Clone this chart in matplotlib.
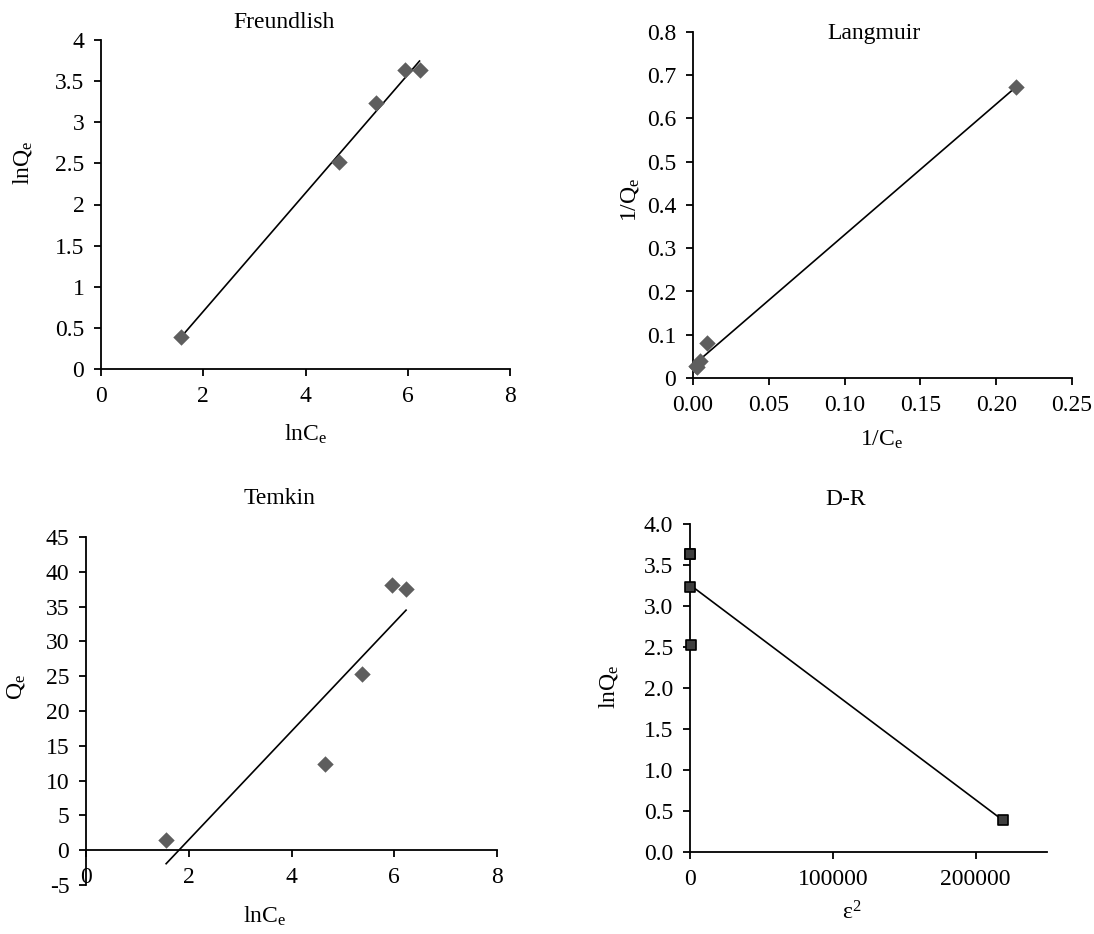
import numpy as np
import matplotlib
matplotlib.use("Agg")
import matplotlib.pyplot as plt
from matplotlib.ticker import FuncFormatter, MultipleLocator

plt.rcParams['font.family'] = 'Liberation Serif'
plt.rcParams['mathtext.fontset'] = 'custom'
plt.rcParams['mathtext.rm'] = 'Liberation Serif'
plt.rcParams['mathtext.it'] = 'Liberation Serif:italic'
plt.rcParams['axes.unicode_minus'] = False

# data
lnCe = [1.56, 4.66, 5.37, 5.95, 6.23]
lnQe = [0.39, 2.52, 3.23, 3.64, 3.63]
inv_Ce = [0.213, 0.0095, 0.0047, 0.0026, 0.0020]
inv_Qe = [0.672, 0.0805, 0.0395, 0.0262, 0.0266]
Qe = [1.48, 12.4, 25.3, 38.1, 37.6]
eps2 = [219000, 550, 130, 40, 24]

diamond_col = '#5e5e5e'
fs = 17

W, H = 1094, 934
fig = plt.figure(figsize=(W / 100, H / 100), dpi=100)


def px_axes(l, t, r, b):
    return fig.add_axes([l / W, 1 - b / H, (r - l) / W, (b - t) / H])


def style(ax):
    for s in ['top', 'right']:
        ax.spines[s].set_visible(False)
    for s in ['left', 'bottom']:
        ax.spines[s].set_linewidth(1.3)
    ax.tick_params(direction='out', length=5, width=1.3, labelsize=fs, pad=7)


def fit_line(ax, x, y):
    x = np.asarray(x, float)
    y = np.asarray(y, float)
    k, b = np.polyfit(x, y, 1)
    xs = np.array([x.min(), x.max()])
    ax.plot(xs, k * xs + b, color='black', lw=1.2, zorder=2)


def ftext(x, y, s, **kw):
    fig.text(x / W, 1 - y / H, s, ha='center', va='center', fontsize=fs, **kw)


gfmt = FuncFormatter(lambda v, p: '{:g}'.format(round(v, 6)))

# Freundlish
ax1 = px_axes(101, 40, 510, 369)
style(ax1)
ax1.scatter(lnCe, lnQe, marker='D', s=70, color=diamond_col, zorder=3,
            linewidths=0, clip_on=False)
fit_line(ax1, lnCe, lnQe)
ax1.set_xlim(0, 8)
ax1.set_ylim(0, 4)
ax1.xaxis.set_major_locator(MultipleLocator(2))
ax1.yaxis.set_major_locator(MultipleLocator(0.5))
ax1.yaxis.set_major_formatter(gfmt)
ftext(284, 23, 'Freundlish')
ftext(306, 434, r'lnC$_\mathregular{e}$')
ftext(23, 163, r'lnQ$_\mathregular{e}$', rotation=90)

# Langmuir
ax2 = px_axes(693, 32, 1072, 378)
style(ax2)
ax2.scatter(inv_Ce, inv_Qe, marker='D', s=70, color=diamond_col, zorder=3,
            linewidths=0, clip_on=False)
fit_line(ax2, inv_Ce, inv_Qe)
ax2.set_xlim(0, 0.25)
ax2.set_ylim(0, 0.8)
ax2.xaxis.set_major_locator(MultipleLocator(0.05))
ax2.yaxis.set_major_locator(MultipleLocator(0.1))
ax2.xaxis.set_major_formatter(FuncFormatter(lambda v, p: '{:.2f}'.format(v)))
ax2.yaxis.set_major_formatter(gfmt)
ftext(874, 33, 'Langmuir')
ftext(882, 440, r'1/C$_\mathregular{e}$')
ftext(630, 200, r'1/Q$_\mathregular{e}$', rotation=90)

# Temkin
ax3 = px_axes(86, 537, 497, 885)
style(ax3)
ax3.spines['bottom'].set_position(('data', 0))
ax3.scatter(lnCe, Qe, marker='D', s=70, color=diamond_col, zorder=3,
            linewidths=0, clip_on=False)
fit_line(ax3, lnCe, Qe)
ax3.set_xlim(0, 8)
ax3.set_ylim(-5, 45)
ax3.xaxis.set_major_locator(MultipleLocator(2))
ax3.yaxis.set_major_locator(MultipleLocator(5))
ftext(279, 498, 'Temkin')
ftext(265, 916, r'lnC$_\mathregular{e}$')
ftext(16, 687, r'Q$_\mathregular{e}$', rotation=90)

# D-R
ax4 = px_axes(690, 524, 1047, 852)
style(ax4)
ax4.scatter(eps2, lnQe, marker='s', s=55, color='#3f3f3f', edgecolors='black',
            linewidths=1.2, zorder=3, clip_on=False)
fit_line(ax4, eps2, lnQe)
ax4.set_xlim(0, 250000)
ax4.set_ylim(0, 4)
ax4.set_xticks([0, 100000, 200000])
ax4.xaxis.set_major_formatter(FuncFormatter(lambda v, p: '{:d}'.format(int(v))))
ax4.yaxis.set_major_locator(MultipleLocator(0.5))
ax4.yaxis.set_major_formatter(FuncFormatter(lambda v, p: '{:.1f}'.format(v)))
ftext(846, 499, 'D-R')
ftext(852, 913, r'ε$^\mathregular{2}$')
ftext(609, 687, r'lnQ$_\mathregular{e}$', rotation=90)

fig.savefig('out.png', dpi=100)
